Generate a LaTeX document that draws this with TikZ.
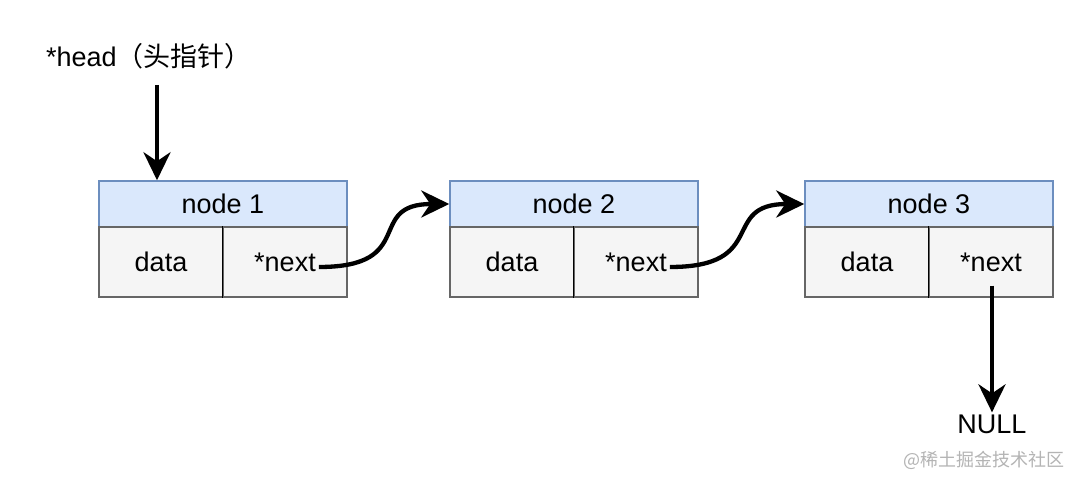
\documentclass[tikz,border=0pt]{standalone}
\usepackage{fontspec}
\setmainfont{Liberation Sans}
\newfontfamily\cjk{Noto Sans CJK SC}
\usetikzlibrary{arrows.meta}
\definecolor{hdrfill}{HTML}{DAE8FC}
\definecolor{hdrline}{HTML}{6C8EBF}
\definecolor{cellfill}{HTML}{F5F5F5}
\definecolor{cellline}{HTML}{666666}
\definecolor{wmark}{HTML}{B4B4B4}
\begin{document}
\begin{tikzpicture}[x=1pt,y=-1pt,
  txt/.style={inner sep=0pt, font=\fontsize{27}{31}\selectfont},
  hdr/.style={txt, draw=hdrline, fill=hdrfill, line width=1.5pt, minimum width=248pt, minimum height=46pt},
  cell/.style={txt, draw=cellline, fill=cellfill, line width=1.5pt, minimum width=124pt, minimum height=70pt},
  ptr/.style={line width=4.3pt, -{Stealth[length=28pt,width=27pt,inset=9pt]}},
]
\fill[white] (0,0) rectangle (1080,486);
\useasboundingbox (0,0) rectangle (1080,486);

% node 1
\node[hdr] (h1) at (223,204) {node 1};
\node[cell] (d1) at (161,262) {data};
\node[cell] (n1) at (285,262) {};
\node[txt] (t1) at (n1.center) {*next};
\draw[line width=1.5pt] (n1.north west) -- (n1.south west);

% node 2
\node[hdr] (h2) at (574,204) {node 2};
\node[cell] (d2) at (512,262) {data};
\node[cell] (n2) at (636,262) {};
\node[txt] (t2) at (n2.center) {*next};
\draw[line width=1.5pt] (n2.north west) -- (n2.south west);

% node 3
\node[hdr] (h3) at (929,204) {node 3};
\node[cell] (d3) at (867,262) {data};
\node[cell] (n3) at (991,262) {};
\node[txt] (t3) at (n3.center) {*next};
\draw[line width=1.5pt] (n3.north west) -- (n3.south west);

% head pointer
\node[txt, anchor=base west] (head) at (46,67) {*head{\cjk（头指针）}};
\draw[ptr] ([xshift=111pt,yshift=-18pt]head.base west) -- ([xshift=111pt]head.base west |- h1.north);

% next pointers
\draw[ptr] ([xshift=3pt,yshift=-5pt]t1.east) .. controls +(100,0) and +(-85,0) .. (h2.west);
\draw[ptr] ([xshift=3pt,yshift=-5pt]t2.east) .. controls +(100,0) and +(-85,0) .. (h3.west);

% NULL
\node[txt] (null) at (992,424) {NULL};
\draw[ptr] ([yshift=-14pt]t3.south -| null.north) -- ([yshift=2pt]null.north);

% watermark
\node[inner sep=0pt, text=wmark, font=\cjk\fontsize{18}{20}\selectfont] (wm) at (984,460) {@稀土掘金技术社区};
\end{tikzpicture}
\end{document}
